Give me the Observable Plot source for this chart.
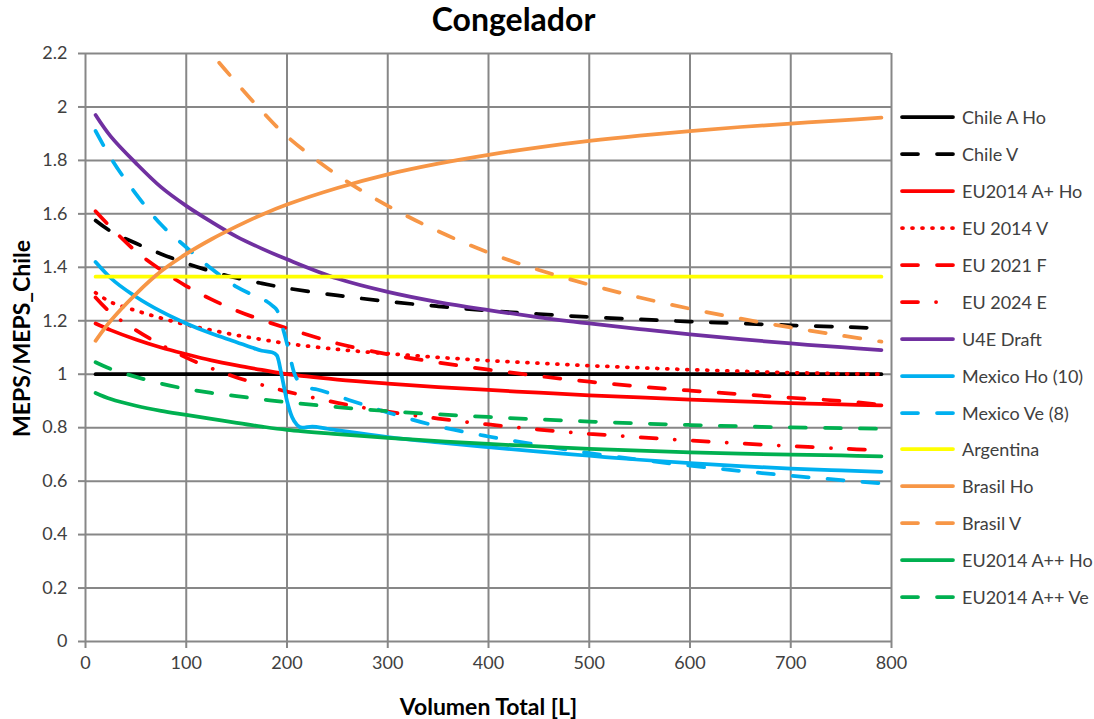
<!DOCTYPE html>
<html>
<head>
<meta charset="utf-8">
<script src="https://cdn.jsdelivr.net/npm/d3@7"></script>
<script src="https://cdn.jsdelivr.net/npm/@observablehq/plot@0.6"></script>
<style>
  body { margin: 0; background: #fff; font-family: Lato, "Open Sans", sans-serif; }
  #wrap { position: relative; width: 1094px; height: 719px; overflow: hidden; }
  #legend { position: absolute; left: 898px; top: 99px; }
  .row { height: 36.9px; display: flex; align-items: center; font-size: 18px; color: #404040; white-space: nowrap; }
  .row svg { margin-right: 4px; }
</style>
</head>
<body>
<div id="wrap">
  <div id="chart"></div>
  <div id="legend"></div>
</div>
<script>
// ---------- data ----------
const title = "Congelador";
const xTicks = [0, 100, 200, 300, 400, 500, 600, 700, 800];
const yTicks = [0, 0.2, 0.4, 0.6, 0.8, 1, 1.2, 1.4, 1.6, 1.8, 2, 2.2];
const xLabel = "Volumen Total [L]";
const yLabel = "MEPS/MEPS_Chile";

// common volume grid for most series
const volumes = [10, 25, 50, 75, 100, 125, 150, 175, 200, 250, 300, 350, 400, 450, 500, 550, 600, 650, 700, 750, 790];

const chileAHo   = [1, 1, 1, 1, 1, 1, 1, 1, 1, 1, 1, 1, 1, 1, 1, 1, 1, 1, 1, 1, 1];
const chileV     = [1.575, 1.535, 1.49, 1.45, 1.415, 1.385, 1.36, 1.34, 1.322, 1.295, 1.272, 1.254, 1.238, 1.225, 1.214, 1.205, 1.197, 1.19, 1.183, 1.177, 1.172];
const eu2014AHo  = [1.19, 1.165, 1.13, 1.10, 1.075, 1.052, 1.033, 1.016, 1.0, 0.98, 0.965, 0.952, 0.941, 0.931, 0.921, 0.913, 0.905, 0.898, 0.892, 0.887, 0.883];
const eu2014V    = [1.305, 1.27, 1.238, 1.21, 1.185, 1.165, 1.146, 1.13, 1.115, 1.093, 1.077, 1.063, 1.051, 1.041, 1.032, 1.024, 1.017, 1.011, 1.006, 1.002, 1.0];
const eu2021F    = [1.61, 1.55, 1.46, 1.39, 1.33, 1.28, 1.238, 1.203, 1.172, 1.115, 1.075, 1.044, 1.017, 0.993, 0.972, 0.954, 0.939, 0.925, 0.912, 0.9, 0.886];
const eu2024E    = [1.287, 1.23, 1.165, 1.11, 1.062, 1.022, 0.988, 0.96, 0.935, 0.893, 0.86, 0.834, 0.812, 0.793, 0.777, 0.764, 0.752, 0.741, 0.731, 0.722, 0.715];
const u4eDraft   = [1.97, 1.89, 1.79, 1.70, 1.63, 1.57, 1.515, 1.47, 1.43, 1.358, 1.308, 1.27, 1.24, 1.213, 1.19, 1.169, 1.149, 1.131, 1.115, 1.101, 1.09];
const argentina  = [1.365, 1.365, 1.365, 1.365, 1.365, 1.365, 1.365, 1.365, 1.365, 1.365, 1.365, 1.365, 1.365, 1.365, 1.365, 1.365, 1.365, 1.365, 1.365, 1.365, 1.365];
const brasilHo   = [1.125, 1.20, 1.30, 1.385, 1.45, 1.505, 1.553, 1.597, 1.635, 1.697, 1.748, 1.788, 1.821, 1.849, 1.873, 1.893, 1.91, 1.925, 1.938, 1.95, 1.96];
const brasilV    = [2.8, 2.71, 2.57, 2.44, 2.32, 2.2, 2.09, 1.985, 1.89, 1.745, 1.63, 1.535, 1.455, 1.39, 1.335, 1.287, 1.245, 1.208, 1.175, 1.145, 1.122];
const eu2014A2Ho = [0.93, 0.907, 0.882, 0.863, 0.848, 0.833, 0.818, 0.804, 0.792, 0.776, 0.762, 0.75, 0.739, 0.73, 0.721, 0.714, 0.708, 0.703, 0.699, 0.696, 0.693];
const eu2014A2Ve = [1.045, 1.02, 0.99, 0.965, 0.945, 0.93, 0.918, 0.906, 0.895, 0.877, 0.862, 0.85, 0.84, 0.831, 0.823, 0.816, 0.81, 0.805, 0.801, 0.798, 0.796];

// Mexico series have their own volume grids (sharp step near 200 L)
const mexicoHoVol = [10, 25, 50, 75, 100, 125, 150, 165, 175, 185, 190, 195, 200, 205, 210, 215, 225, 240, 260, 300, 350, 400, 450, 500, 550, 600, 650, 700, 750, 790];
const mexicoHo    = [1.42, 1.36, 1.29, 1.235, 1.19, 1.152, 1.12, 1.1, 1.088, 1.082, 1.07, 0.99, 0.90, 0.84, 0.81, 0.80, 0.804, 0.796, 0.785, 0.765, 0.745, 0.727, 0.71, 0.695, 0.68, 0.667, 0.656, 0.647, 0.64, 0.635];
const mexicoVeVol = [10, 25, 50, 75, 100, 125, 150, 170, 180, 186, 190, 196, 201, 207, 212, 220, 230, 250, 300, 350, 400, 450, 500, 550, 600, 650, 700, 750, 790];
const mexicoVe    = [1.91, 1.81, 1.675, 1.56, 1.475, 1.395, 1.327, 1.29, 1.272, 1.255, 1.24, 1.17, 1.10, 1.006, 0.97, 0.95, 0.943, 0.918, 0.857, 0.805, 0.767, 0.735, 0.705, 0.68, 0.658, 0.638, 0.62, 0.604, 0.592];

// ---------- series styles ----------
const DASH = "16,19", DOT = "1,9", DASHDOT = "16,18,0.1,18";
const series = [
  { name: "Chile A Ho",       vol: volumes,     val: chileAHo,   color: "#000000", dash: null },
  { name: "Chile V",          vol: volumes,     val: chileV,     color: "#000000", dash: DASH },
  { name: "EU2014 A+ Ho",     vol: volumes,     val: eu2014AHo,  color: "#FF0000", dash: null },
  { name: "EU 2014 V",        vol: volumes,     val: eu2014V,    color: "#FF0000", dash: DOT },
  { name: "EU 2021 F",        vol: volumes,     val: eu2021F,    color: "#FF0000", dash: DASH },
  { name: "EU 2024 E",        vol: volumes,     val: eu2024E,    color: "#FF0000", dash: DASHDOT },
  { name: "U4E Draft",        vol: volumes,     val: u4eDraft,   color: "#7030A0", dash: null },
  { name: "Mexico Ho (10)",   vol: mexicoHoVol, val: mexicoHo,   color: "#00B0F0", dash: null, step: true },
  { name: "Mexico Ve (8)",    vol: mexicoVeVol, val: mexicoVe,   color: "#00B0F0", dash: DASH, step: true },
  { name: "Argentina",        vol: volumes,     val: argentina,  color: "#FFFF00", dash: null },
  { name: "Brasil Ho",        vol: volumes,     val: brasilHo,   color: "#F79646", dash: null },
  { name: "Brasil V",         vol: volumes,     val: brasilV,    color: "#F79646", dash: DASH },
  { name: "EU2014 A++ Ho",    vol: volumes,     val: eu2014A2Ho, color: "#00B050", dash: null },
  { name: "EU2014 A++ Ve",    vol: volumes,     val: eu2014A2Ve, color: "#00B050", dash: DASH }
];

const LW = 3.75;
const GRID = "#878787";

const lineMarks = series.map(s => {
  const rows = s.vol.map((v, i) => ({ v, r: s.val[i], name: s.name }));
  return Plot.line(rows, {
    x: "v", y: "r", stroke: s.color, strokeWidth: LW,
    strokeDasharray: s.dash || undefined, strokeLinecap: "round", strokeLinejoin: "round",
    curve: s.step ? "monotone-x" : "catmull-rom", clip: true
  });
});

const chart = Plot.plot({
  width: 1094, height: 719,
  marginLeft: 85, marginRight: 203, marginTop: 53, marginBottom: 78,
  style: { fontFamily: "Lato, 'Open Sans', sans-serif", fontSize: "18px", color: "#404040", background: "#fff", overflow: "visible" },
  x: { domain: [0, 800], label: null },
  y: { domain: [0, 2.2], label: null },
  marks: [
    Plot.gridX(xTicks, { stroke: GRID, strokeOpacity: 1, strokeWidth: 2 }),
    Plot.gridY(yTicks, { stroke: GRID, strokeOpacity: 1, strokeWidth: 2 }),
    Plot.axisX(xTicks, { tickSize: 7, tickPadding: 8, stroke: GRID, strokeWidth: 2, fontSize: 18, fill: "#404040", tickFormat: d => String(d), label: null }),
    Plot.axisY(yTicks, { tickSize: 7, tickPadding: 11, stroke: GRID, strokeWidth: 2, fontSize: 18, fill: "#404040", tickFormat: d => String(+d.toFixed(1)), label: null }),
    ...lineMarks,
    Plot.text([title], { text: d => d, frameAnchor: "top", textAnchor: "middle", lineAnchor: "middle", dx: 25, dy: -33, fontWeight: "bold", fontSize: 32, fill: "#000" }),
    Plot.text([xLabel], { text: d => d, frameAnchor: "bottom", textAnchor: "middle", lineAnchor: "middle", dy: 66, fontWeight: "bold", fontSize: 23, fill: "#000" }),
    Plot.text([yLabel], { text: d => d, frameAnchor: "left", textAnchor: "middle", lineAnchor: "middle", dx: -63, dy: -9, rotate: -90, fontWeight: "bold", fontSize: 23, fill: "#000" })
  ]
});
document.getElementById("chart").appendChild(chart);

// ---------- legend ----------
const legend = d3.select("#legend");
series.forEach(s => {
  const row = legend.append("div").attr("class", "row");
  const svg = row.append("svg").attr("width", 60).attr("height", 10);
  svg.append("line").attr("x1", 4).attr("x2", 55).attr("y1", 5).attr("y2", 5)
    .attr("stroke", s.color).attr("stroke-width", LW).attr("stroke-linecap", "round")
    .attr("stroke-dasharray", s.dash);
  row.append("span").text(s.name);
});
</script>
</body>
</html>
